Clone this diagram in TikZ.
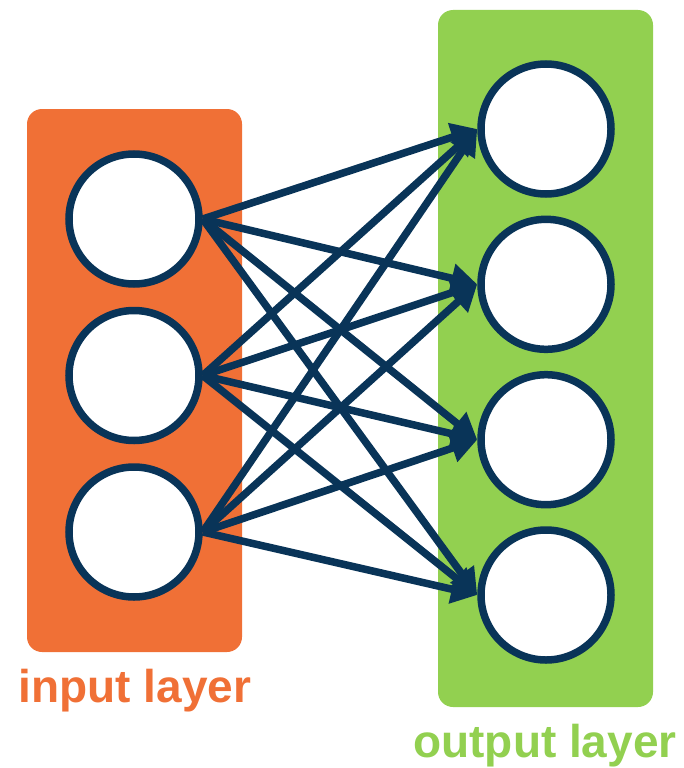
\documentclass[tikz,border=0pt]{standalone}
\usepackage{fontspec}
\setmainfont{Liberation Sans}
\usetikzlibrary{arrows.meta}
\definecolor{inorange}{RGB}{240,112,54}
\definecolor{outgreen}{RGB}{146,208,80}
\definecolor{navy}{RGB}{9,52,88}
\tikzset{
  neuron/.style={circle, draw=navy, fill=white, line width=7.5pt, minimum size=130pt, inner sep=0pt},
  conn/.style={draw=navy, line width=7.5pt, -{Triangle[length=26pt,width=28pt]}},
  layerbox/.style={rounded corners=15pt, draw=none},
  layertext/.style={font=\bfseries\fontsize{46}{50}\selectfont, anchor=base, inner sep=0pt}
}
\begin{document}
\begin{tikzpicture}[x=1pt,y=-1pt]
\useasboundingbox (0,0) rectangle (684,768);
\fill[layerbox, fill=inorange] (27,109) rectangle (242,652);
\fill[layerbox, fill=outgreen] (438,10) rectangle (653,707);
\node[neuron] (i1) at (134,219) {};
\node[neuron] (i2) at (134,375.5) {};
\node[neuron] (i3) at (134,532) {};
\node[neuron] (o1) at (546,129) {};
\node[neuron] (o2) at (546,284.3) {};
\node[neuron] (o3) at (546,439.7) {};
\node[neuron] (o4) at (546,595) {};
\foreach \i in {1,2,3}{
  \foreach \o in {1,2,3,4}{
    \draw[conn] (i\i.east) -- (o\o.west);
  }
}
\node[layertext, text=inorange] (lin) at (135,702) {input layer};
\node[layertext, text=outgreen] (lout) at (545,757) {output layer};
\end{tikzpicture}
\end{document}
